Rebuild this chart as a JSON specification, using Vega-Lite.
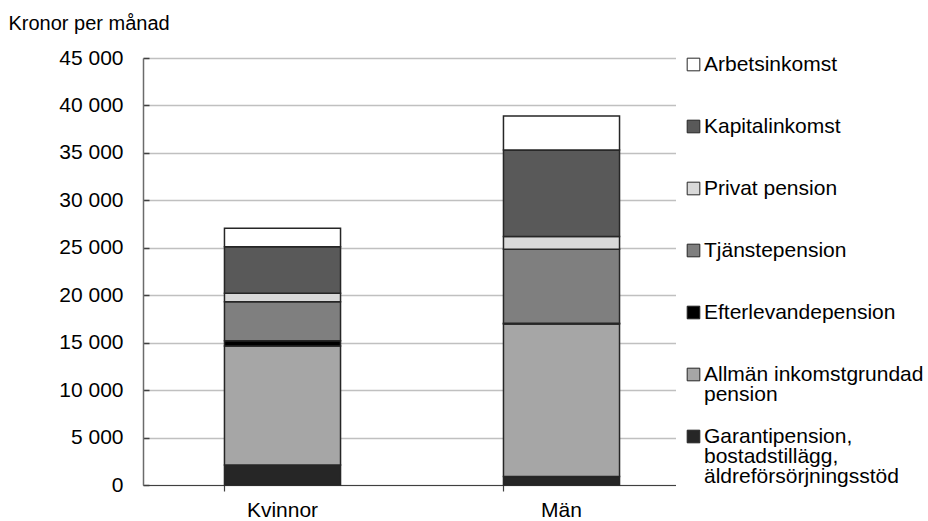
{
  "$schema": "https://vega.github.io/schema/vega-lite/v6.json",
  "autosize": {"type": "none"},
  "padding": {"left": 143, "top": 58, "right": 227, "bottom": 36},
  "width": 558,
  "height": 427,
  "config": {
    "view": {"stroke": null},
    "font": "Liberation Sans",
    "background": "white"
  },
  "data": {
    "values": [
      {"kön": "Kvinnor", "inkomstslag": "Garantipension, bostadstillägg, äldreförsörjningsstöd", "nr": 1, "kronor": 2100},
      {"kön": "Kvinnor", "inkomstslag": "Allmän inkomstgrundad pension", "nr": 2, "kronor": 12550},
      {"kön": "Kvinnor", "inkomstslag": "Efterlevandepension", "nr": 3, "kronor": 560},
      {"kön": "Kvinnor", "inkomstslag": "Tjänstepension", "nr": 4, "kronor": 4110},
      {"kön": "Kvinnor", "inkomstslag": "Privat pension", "nr": 5, "kronor": 880},
      {"kön": "Kvinnor", "inkomstslag": "Kapitalinkomst", "nr": 6, "kronor": 4900},
      {"kön": "Kvinnor", "inkomstslag": "Arbetsinkomst", "nr": 7, "kronor": 1950},
      {"kön": "Män", "inkomstslag": "Garantipension, bostadstillägg, äldreförsörjningsstöd", "nr": 1, "kronor": 900},
      {"kön": "Män", "inkomstslag": "Allmän inkomstgrundad pension", "nr": 2, "kronor": 16070},
      {"kön": "Män", "inkomstslag": "Efterlevandepension", "nr": 3, "kronor": 80},
      {"kön": "Män", "inkomstslag": "Tjänstepension", "nr": 4, "kronor": 7800},
      {"kön": "Män", "inkomstslag": "Privat pension", "nr": 5, "kronor": 1330},
      {"kön": "Män", "inkomstslag": "Kapitalinkomst", "nr": 6, "kronor": 9120},
      {"kön": "Män", "inkomstslag": "Arbetsinkomst", "nr": 7, "kronor": 3590}
    ]
  },
  "mark": {"type": "bar", "stroke": "#262626", "strokeWidth": 1.5},
  "encoding": {
    "x": {
      "field": "kön",
      "type": "nominal",
      "sort": ["Kvinnor", "Män"],
      "scale": {"paddingInner": 0.584, "paddingOuter": 0.292},
      "axis": {
        "title": null,
        "labelAngle": 0,
        "labelFontSize": 21,
        "labelColor": "black",
        "labelPadding": 8,
        "bandPosition": 0,
        "domainColor": "#404040",
        "domainWidth": 1.2,
        "tickColor": "#404040",
        "tickWidth": 1.2,
        "tickSize": 6,
        "grid": false
      }
    },
    "y": {
      "field": "kronor",
      "type": "quantitative",
      "stack": "zero",
      "scale": {"domain": [0, 45000], "nice": false},
      "axis": {
        "title": "Kronor per månad",
        "titleAngle": 0,
        "titleAlign": "left",
        "titleBaseline": "alphabetic",
        "titleX": -135,
        "titleY": -29,
        "titleFontSize": 20,
        "titleFontWeight": "normal",
        "titleColor": "black",
        "values": [0, 5000, 10000, 15000, 20000, 25000, 30000, 35000, 40000, 45000],
        "labelExpr": "replace(format(datum.value, ','), ',', ' ')",
        "labelFontSize": 21,
        "labelColor": "black",
        "labelPadding": 26,
        "domainColor": "#6b6b6b",
        "domainWidth": 1.5,
        "tickColor": "#404040",
        "tickWidth": 1.5,
        "tickSize": -6,
        "gridColor": "#c0c0c0",
        "gridWidth": 1.5
      }
    },
    "color": {
      "field": "inkomstslag",
      "type": "nominal",
      "scale": {
        "domain": [
          "Arbetsinkomst",
          "Kapitalinkomst",
          "Privat pension",
          "Tjänstepension",
          "Efterlevandepension",
          "Allmän inkomstgrundad pension",
          "Garantipension, bostadstillägg, äldreförsörjningsstöd"
        ],
        "range": ["#ffffff", "#595959", "#d9d9d9", "#7f7f7f", "#000000", "#a6a6a6", "#262626"]
      },
      "legend": {
        "title": null,
        "orient": "none",
        "legendX": 533,
        "legendY": -11,
        "fillColor": "white",
        "padding": 7,
        "symbolType": "square",
        "symbolSize": 160,
        "symbolStrokeColor": "#262626",
        "symbolStrokeWidth": 1,
        "symbolOpacity": 1,
        "labelFontSize": 21,
        "labelColor": "black",
        "labelLimit": 300,
        "labelOffset": 0,
        "gridAlign": "all",
        "rowPadding": 0,
        "labelExpr": "datum.label == 'Allmän inkomstgrundad pension' ? ['Allmän inkomstgrundad', 'pension'] : datum.label == 'Garantipension, bostadstillägg, äldreförsörjningsstöd' ? ['Garantipension,', 'bostadstillägg,', 'äldreförsörjningsstöd'] : datum.label",
        "encoding": {
          "labels": {"lineHeight": {"value": 20}}
        }
      }
    },
    "order": {"field": "nr", "type": "quantitative"}
  }
}
